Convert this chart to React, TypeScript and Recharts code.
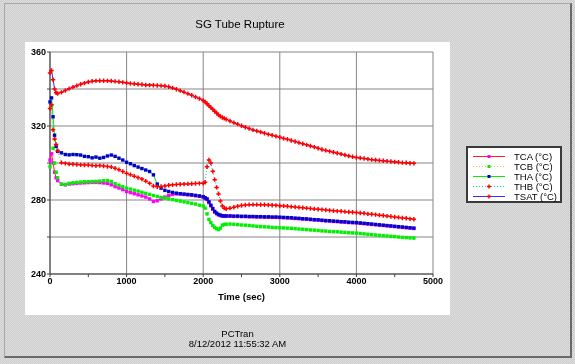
import React from 'react';
import { LineChart, Line, XAxis, YAxis, CartesianGrid } from 'recharts';

// time base (sec), denser around the start and the 2000-2300 s transient
const TIME = [
  0, 20, 40, 60, 80, 100,
  150, 200, 250, 300, 350, 400, 450, 500, 550, 600, 650, 700, 750, 800, 850, 900, 950, 1000,
  1050, 1100, 1150, 1200, 1250, 1300, 1350, 1400, 1450, 1500, 1550, 1600, 1650, 1700, 1750, 1800, 1850, 1900, 1950, 2000,
  2025, 2050, 2075, 2100, 2125, 2150, 2175, 2200, 2225, 2250, 2275, 2300,
  2350, 2400, 2450, 2500, 2550, 2600, 2650, 2700, 2750, 2800, 2850, 2900, 2950, 3000,
  3050, 3100, 3150, 3200, 3250, 3300, 3350, 3400, 3450, 3500, 3550, 3600, 3650, 3700, 3750, 3800, 3850, 3900, 3950, 4000,
  4050, 4100, 4150, 4200, 4250, 4300, 4350, 4400, 4450, 4500, 4550, 4600, 4650, 4700, 4750,
];

const TCA = [
  301.6, 305.0, 300.0, 295.0, 292.0, 290.5,
  288.5, 288.2, 288.6, 288.8, 289.0, 289.2, 289.3, 289.4, 289.5, 289.5, 289.4, 289.2, 289.0, 288.2, 287.2, 286.5, 285.6, 284.6,
  284.0, 283.4, 282.8, 282.2, 281.6, 280.6, 279.2, 279.6, 280.6, 281.6, 282.4, 283.0, 283.3, 283.2, 283.0, 282.8, 282.6, 282.3, 282.0, 281.6,
  281.0, 280.3, 278.6, 276.8, 275.0, 273.5, 272.6, 272.0, 271.6, 271.3, 271.2, 271.2,
  271.2, 271.1, 271.1, 271.0, 271.0, 270.9, 270.9, 270.8, 270.8, 270.7, 270.7, 270.6, 270.6, 270.5,
  270.4, 270.3, 270.2, 270.0, 269.9, 269.7, 269.6, 269.4, 269.2, 269.1, 268.9, 268.7, 268.6, 268.4, 268.3, 268.1, 268.0, 267.8, 267.7, 267.6,
  267.4, 267.2, 267.0, 266.8, 266.6, 266.4, 266.2, 266.0, 265.8, 265.6, 265.4, 265.2, 265.0, 264.8, 264.6,
];

const TCB = [
  298.0, 331.0, 308.0, 300.0, 295.0, 292.0,
  288.6, 288.4, 289.0, 289.3, 289.5, 289.7, 289.9, 289.9, 290.0, 290.1, 290.2, 290.4, 290.5, 290.0, 288.8, 288.0, 287.2, 286.4,
  285.9, 285.3, 284.8, 284.2, 283.6, 283.0, 282.4, 281.9, 281.4, 281.0, 280.6, 280.2, 279.8, 279.4, 279.0, 278.6, 278.2, 277.8, 277.2, 276.8,
  275.6, 272.5, 269.5, 267.8, 266.2, 265.2, 264.5, 264.0, 264.8, 266.4, 266.8, 266.9,
  267.0, 266.9, 266.7, 266.5, 266.4, 266.2, 266.0, 265.8, 265.6, 265.5, 265.4, 265.2, 265.1, 265.0,
  264.9, 264.8, 264.7, 264.5, 264.3, 264.2, 264.0, 263.8, 263.7, 263.5, 263.3, 263.2, 263.0, 262.9, 262.8, 262.6, 262.5, 262.3, 262.2, 262.1,
  261.9, 261.7, 261.5, 261.3, 261.1, 260.9, 260.7, 260.6, 260.4, 260.2, 260.0, 259.8, 259.7, 259.5, 259.4,
];

const THA = [
  333.0, 335.2, 325.0, 315.0, 309.0, 306.3,
  305.5, 304.6, 304.4, 304.6, 304.5, 304.3, 303.6, 303.4, 302.8, 303.2, 302.6, 303.0, 303.8, 304.3, 303.6, 302.6, 301.6, 300.4,
  299.6, 298.6, 297.8, 297.0, 296.2, 295.4, 293.6, 288.6, 286.4, 285.2, 284.6, 284.1, 283.7, 283.4, 283.2, 283.0, 282.8, 282.5, 282.2, 281.8,
  281.2, 280.6, 279.0, 277.2, 275.4, 273.8, 272.9, 272.2, 271.8, 271.5, 271.4, 271.4,
  271.4, 271.3, 271.3, 271.2, 271.2, 271.1, 271.1, 271.0, 271.0, 270.9, 270.9, 270.8, 270.8, 270.7,
  270.6, 270.5, 270.4, 270.2, 270.1, 269.9, 269.8, 269.6, 269.4, 269.3, 269.1, 268.9, 268.8, 268.6, 268.5, 268.3, 268.2, 268.0, 267.9, 267.8,
  267.6, 267.4, 267.2, 267.0, 266.8, 266.6, 266.4, 266.2, 266.0, 265.8, 265.6, 265.4, 265.2, 265.0, 264.8,
];

const THB = [
  329.5, 331.5, 318.0, 313.0, 310.0, 306.5,
  300.2, 299.8, 299.5, 299.3, 299.2, 299.0, 298.9, 298.9, 298.7, 298.5, 298.6, 298.4, 298.1, 297.9, 297.2, 296.4, 295.4, 294.4,
  293.7, 292.9, 292.1, 291.3, 290.2, 289.0, 287.6, 287.2, 287.3, 287.6, 288.0, 288.2, 288.4, 288.5, 288.6, 288.7, 288.8, 288.9, 289.0, 289.0,
  289.6, 298.0, 301.6, 300.0, 295.5, 291.0, 286.8, 283.3, 279.5, 276.8, 275.6, 275.3,
  275.6, 276.1, 276.6, 277.0, 277.3, 277.5, 277.5, 277.5, 277.4, 277.4, 277.3, 277.2, 277.1, 276.9,
  276.8, 276.6, 276.4, 276.2, 276.0, 275.8, 275.6, 275.4, 275.2, 275.0, 274.8, 274.6, 274.4, 274.2, 274.0, 273.9, 273.7, 273.5, 273.4, 273.2,
  273.0, 272.8, 272.5, 272.3, 272.1, 271.8, 271.6, 271.3, 271.1, 270.8, 270.6, 270.3, 270.1, 269.8, 269.6,
];

const TSAT = [
  348.7, 350.0, 345.0, 340.0, 338.0, 337.6,
  338.2, 339.2, 340.2, 341.0, 341.8, 342.6, 343.2, 343.8, 344.2, 344.4, 344.5, 344.5, 344.4, 344.3, 344.1, 343.9, 343.6, 343.3,
  343.0, 342.8, 342.6, 342.4, 342.2, 342.1, 342.0, 341.9, 341.8, 341.6, 341.2, 340.6, 339.9, 339.1, 338.3, 337.5, 336.6, 335.7, 334.8, 333.8,
  333.0, 332.0, 331.0, 330.0, 329.0, 328.0, 327.0, 326.0, 325.2, 324.6, 324.1, 323.6,
  322.7, 321.8, 321.0, 320.1, 319.3, 318.6, 317.9, 317.3, 316.7, 316.1, 315.5, 315.0, 314.4, 313.9,
  313.3, 312.8, 312.2, 311.6, 311.0, 310.4, 309.8, 309.2, 308.6, 308.0, 307.3, 306.8, 306.3, 305.8, 305.3, 304.8, 304.3, 303.8, 303.4, 303.0,
  302.7, 302.4, 302.1, 301.8, 301.6, 301.4, 301.2, 301.0, 300.8, 300.6, 300.4, 300.2, 300.1, 299.9, 299.8,
];

const Y_TICKS = [240, 260, 280, 300, 320, 340, 360];
const X_TICKS = [0, 500, 1000, 1500, 2000, 2500, 3000, 3500, 4000, 4500, 5000];
const X_GRID = [0, 1000, 2000, 3000, 4000, 5000];

const TITLE = 'SG Tube Rupture';
const X_LABEL = 'Time (sec)';
const FOOT_1 = 'PCTran';
const FOOT_2 = '8/12/2012 11:55:32 AM';

const SERIES = [
  { key: 'TCA', label: 'TCA (°C)', values: TCA, line: '#ff2020', mark: '#ff00ff', dash: undefined, shape: 'box' },
  { key: 'TCB', label: 'TCB (°C)', values: TCB, line: '#ffb060', mark: '#00ee00', dash: '1 2', shape: 'box' },
  { key: 'THA', label: 'THA (°C)', values: THA, line: '#00ee00', mark: '#0000cc', dash: undefined, shape: 'box' },
  { key: 'THB', label: 'THB (°C)', values: THB, line: '#00c8c8', mark: '#ff0000', dash: '1 2', shape: 'plus' },
  { key: 'TSAT', label: 'TSAT (°C)', values: TSAT, line: '#3030ff', mark: '#ff0000', dash: undefined, shape: 'plus' },
];

const rows = TIME.map((t, i) => {
  const r: Record<string, number> = { t };
  SERIES.forEach((s) => { r[s.key] = s.values[i]; });
  return r;
});

const FONT = '"Liberation Sans", Arial, sans-serif';

const makeDot = (id: string, color: string, shape: string) => (p: any) => {
  const k = `${id}-${p.index}`;
  if (p.cx == null || p.cy == null) return <g key={k} />;
  if (shape === 'plus') {
    return (
      <path key={k} d={`M${p.cx - 2.2},${p.cy}h4.4M${p.cx},${p.cy - 2.2}v4.4`} stroke={color} strokeWidth={1.5} fill="none" />
    );
  }
  return <rect key={k} x={p.cx - 1.7} y={p.cy - 1.7} width={3.4} height={3.4} fill={color} />;
};

const Sample = ({ s }: { s: (typeof SERIES)[number] }) => (
  <svg width={32} height={7} style={{ display: 'block' }}>
    <line x1={0} y1={3.5} x2={32} y2={3.5} stroke={s.line} strokeWidth={1} strokeDasharray={s.dash} />
    {s.shape === 'plus' ? (
      <path d="M14,3.5h4M16,1.5v4" stroke={s.mark} strokeWidth={1.4} />
    ) : (
      <rect x={14.5} y={2} width={3} height={3} fill={s.mark} />
    )}
  </svg>
);

const dither = 'repeating-conic-gradient(#cdcdcd 0 25%, #dedede 0 50%) 0 0 / 2px 2px';

export default function App() {
  return (
    <div style={{ position: 'fixed', left: 0, top: 0, width: 575, height: 364, background: dither, fontFamily: FONT, overflow: 'hidden' }}>
      <div style={{ position: 'absolute', left: 4, top: 3, width: 565, height: 352, borderLeft: '1px solid #a6a6a6', borderTop: '1px solid #a6a6a6', borderRight: '2px solid #6a6a6a', borderBottom: '2px solid #6a6a6a' }} />
      <div style={{ position: 'absolute', left: 25, top: 42, width: 425, height: 273, background: '#ffffff' }} />
      <div style={{ position: 'absolute', left: 0, width: 480, top: 18, textAlign: 'center', fontSize: 11.5, color: '#000' }}>{TITLE}</div>
      <div style={{ position: 'absolute', left: 0, width: 475, top: 329, textAlign: 'center', fontSize: 9.5, lineHeight: '10px', color: '#000' }}>
        <div>{FOOT_1}</div>
        <div>{FOOT_2}</div>
      </div>

      <div style={{ position: 'absolute', left: 0, top: 0 }}>
        <LineChart width={575} height={364} data={rows} margin={{ top: 52, right: 142, bottom: 60, left: 25 }}>
          <XAxis xAxisId="grid" dataKey="t" type="number" domain={[0, 5000]} ticks={X_GRID} hide />
          <CartesianGrid xAxisId="grid" stroke="#858585" strokeWidth={1} />
          <XAxis
            dataKey="t"
            type="number"
            domain={[0, 5000]}
            ticks={X_TICKS}
            interval={0}
            tickSize={3}
            tickMargin={1}
            height={30}
            stroke="#404040"
            tick={{ fill: '#000', fontSize: 9, fontWeight: 'bold', fontFamily: FONT }}
            tickFormatter={(v: number) => (v % 1000 === 0 ? String(v) : '')}
            label={{ value: X_LABEL, position: 'insideBottom', offset: 4, fill: '#000', fontSize: 9.5, fontWeight: 'bold', fontFamily: FONT }}
          />
          <YAxis
            type="number"
            domain={[240, 360]}
            ticks={Y_TICKS}
            interval={0}
            width={25}
            tickSize={3}
            tickMargin={1}
            stroke="#404040"
            tick={{ fill: '#000', fontSize: 9, fontWeight: 'bold', fontFamily: FONT }}
            tickFormatter={(v: number) => (v % 40 === 0 ? String(v) : '')}
          />
          {SERIES.map((s) => (
            <Line
              key={s.key}
              dataKey={s.key}
              type="linear"
              stroke={s.line}
              strokeWidth={1}
              strokeDasharray={s.dash}
              dot={makeDot(s.key, s.mark, s.shape)}
              activeDot={false}
              isAnimationActive={false}
            />
          ))}
        </LineChart>
      </div>

      <div style={{ position: 'absolute', left: 466, top: 146, width: 92, height: 53, background: '#fff', border: '2px solid #3a3a3a', boxSizing: 'content-box' }}>
        {SERIES.map((s, i) => (
          <div key={s.key} style={{ position: 'absolute', left: 5, top: 3 + i * 10, height: 10, display: 'flex', alignItems: 'center', fontSize: 9.5, color: '#000' }}>
            <Sample s={s} />
            <span style={{ marginLeft: 9, whiteSpace: 'nowrap' }}>{s.label}</span>
          </div>
        ))}
      </div>
    </div>
  );
}
